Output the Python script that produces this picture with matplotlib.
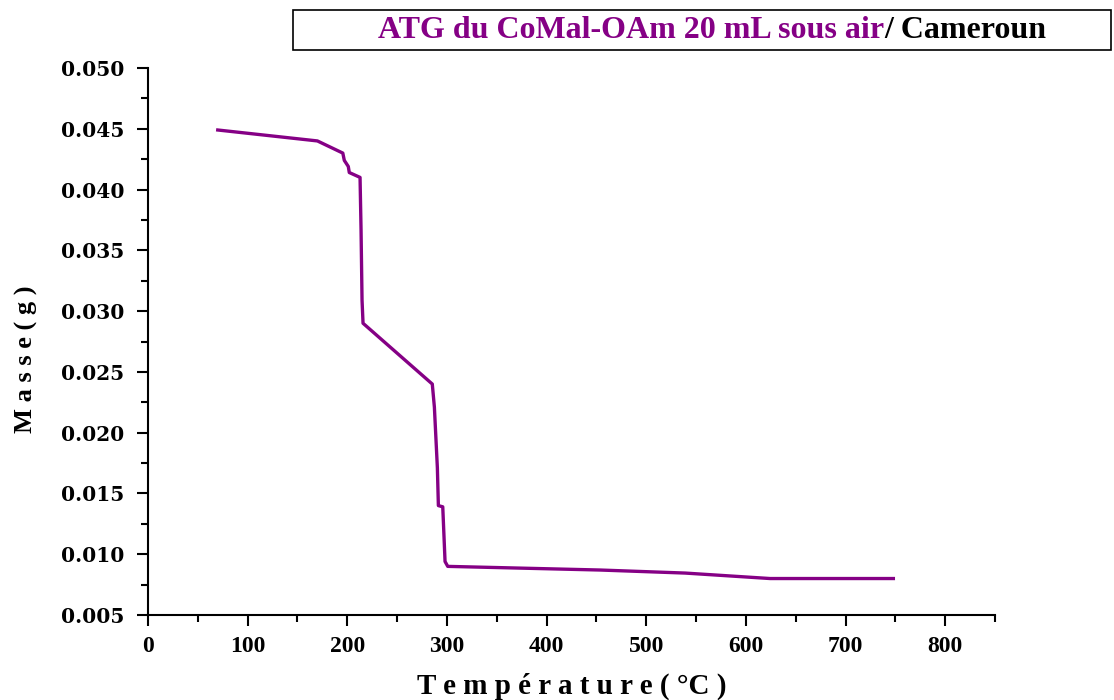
import matplotlib.pyplot as plt
from matplotlib.patches import Rectangle
from matplotlib.ticker import MultipleLocator, FormatStrFormatter

# ATG curve, temperature (°C) vs remaining mass (g)
temperature = [70, 170, 195.5, 197, 201, 202, 212.8, 213.8, 214.8, 215.8,
               285.3, 287.4, 290.4, 291.4, 295.8, 298.1, 300.8, 453.7,
               539, 624.3, 710, 714, 748]
masse = [0.0449, 0.0440, 0.0430, 0.0424, 0.0419, 0.0414, 0.0410, 0.0367,
         0.0309, 0.0290, 0.0240, 0.0221, 0.0171, 0.0140, 0.0139, 0.0094,
         0.0090, 0.0087, 0.00845, 0.0080, 0.0080, 0.0080, 0.0080]

purple = '#850085'

fig = plt.figure(figsize=(11.14, 7), dpi=100)
ax = fig.add_axes([148/1114, 1 - 615/700, 847/1114, 547/700])

ax.plot(temperature, masse, color=purple, linewidth=2.4)

ax.set_xlim(0, 850)
ax.set_ylim(0.005, 0.050)
ax.xaxis.set_major_locator(MultipleLocator(100))
ax.xaxis.set_minor_locator(MultipleLocator(50))
ax.yaxis.set_major_locator(MultipleLocator(0.005))
ax.yaxis.set_minor_locator(MultipleLocator(0.0025))
ax.yaxis.set_major_formatter(FormatStrFormatter('%.3f'))

for side in ['top', 'right']:
    ax.spines[side].set_visible(False)
for side in ['left', 'bottom']:
    ax.spines[side].set_linewidth(1.5)

ax.tick_params(which='major', direction='out', length=8, width=1.5)
ax.tick_params(which='minor', direction='out', length=5, width=1.5)
ax.tick_params(axis='x', pad=7)
ax.tick_params(axis='y', pad=9)

for lab in ax.get_xticklabels():
    lab.set_fontfamily('Liberation Serif')
    lab.set_fontweight('bold')
    lab.set_fontsize(17)
for lab in ax.get_yticklabels():
    lab.set_fontfamily('DejaVu Serif')
    lab.set_fontweight('bold')
    lab.set_fontsize(14.5)

ax.set_xlabel('T e m p é r a t u r e ( °C )', fontfamily='Liberation Serif',
              fontweight='bold', fontsize=21)
ax.set_ylabel('M a s s e ( g )', fontfamily='Liberation Serif',
              fontweight='bold', fontsize=19)
ax.xaxis.set_label_coords(0.50, -0.106)
ax.yaxis.set_label_coords(-0.13, 0.468)

# boxed two-colour title
fig.add_artist(Rectangle((293/1114, 1 - 50/700), (1111 - 293)/1114, 40/700,
                         transform=fig.transFigure, fill=False,
                         edgecolor='black', linewidth=1.2))
t1 = fig.text(378/1114, 1 - 31/700, 'ATG du CoMal-OAm 20 mL sous air',
              color=purple, fontfamily='Liberation Serif', fontweight='bold',
              fontsize=23, va='center', ha='left')
ax.annotate('/ Cameroun', xy=(1, 0), xycoords=t1, va='bottom', ha='left',
            color='black', fontfamily='Liberation Serif', fontweight='bold',
            fontsize=23, annotation_clip=False)

fig.savefig('out.png', dpi=100)
